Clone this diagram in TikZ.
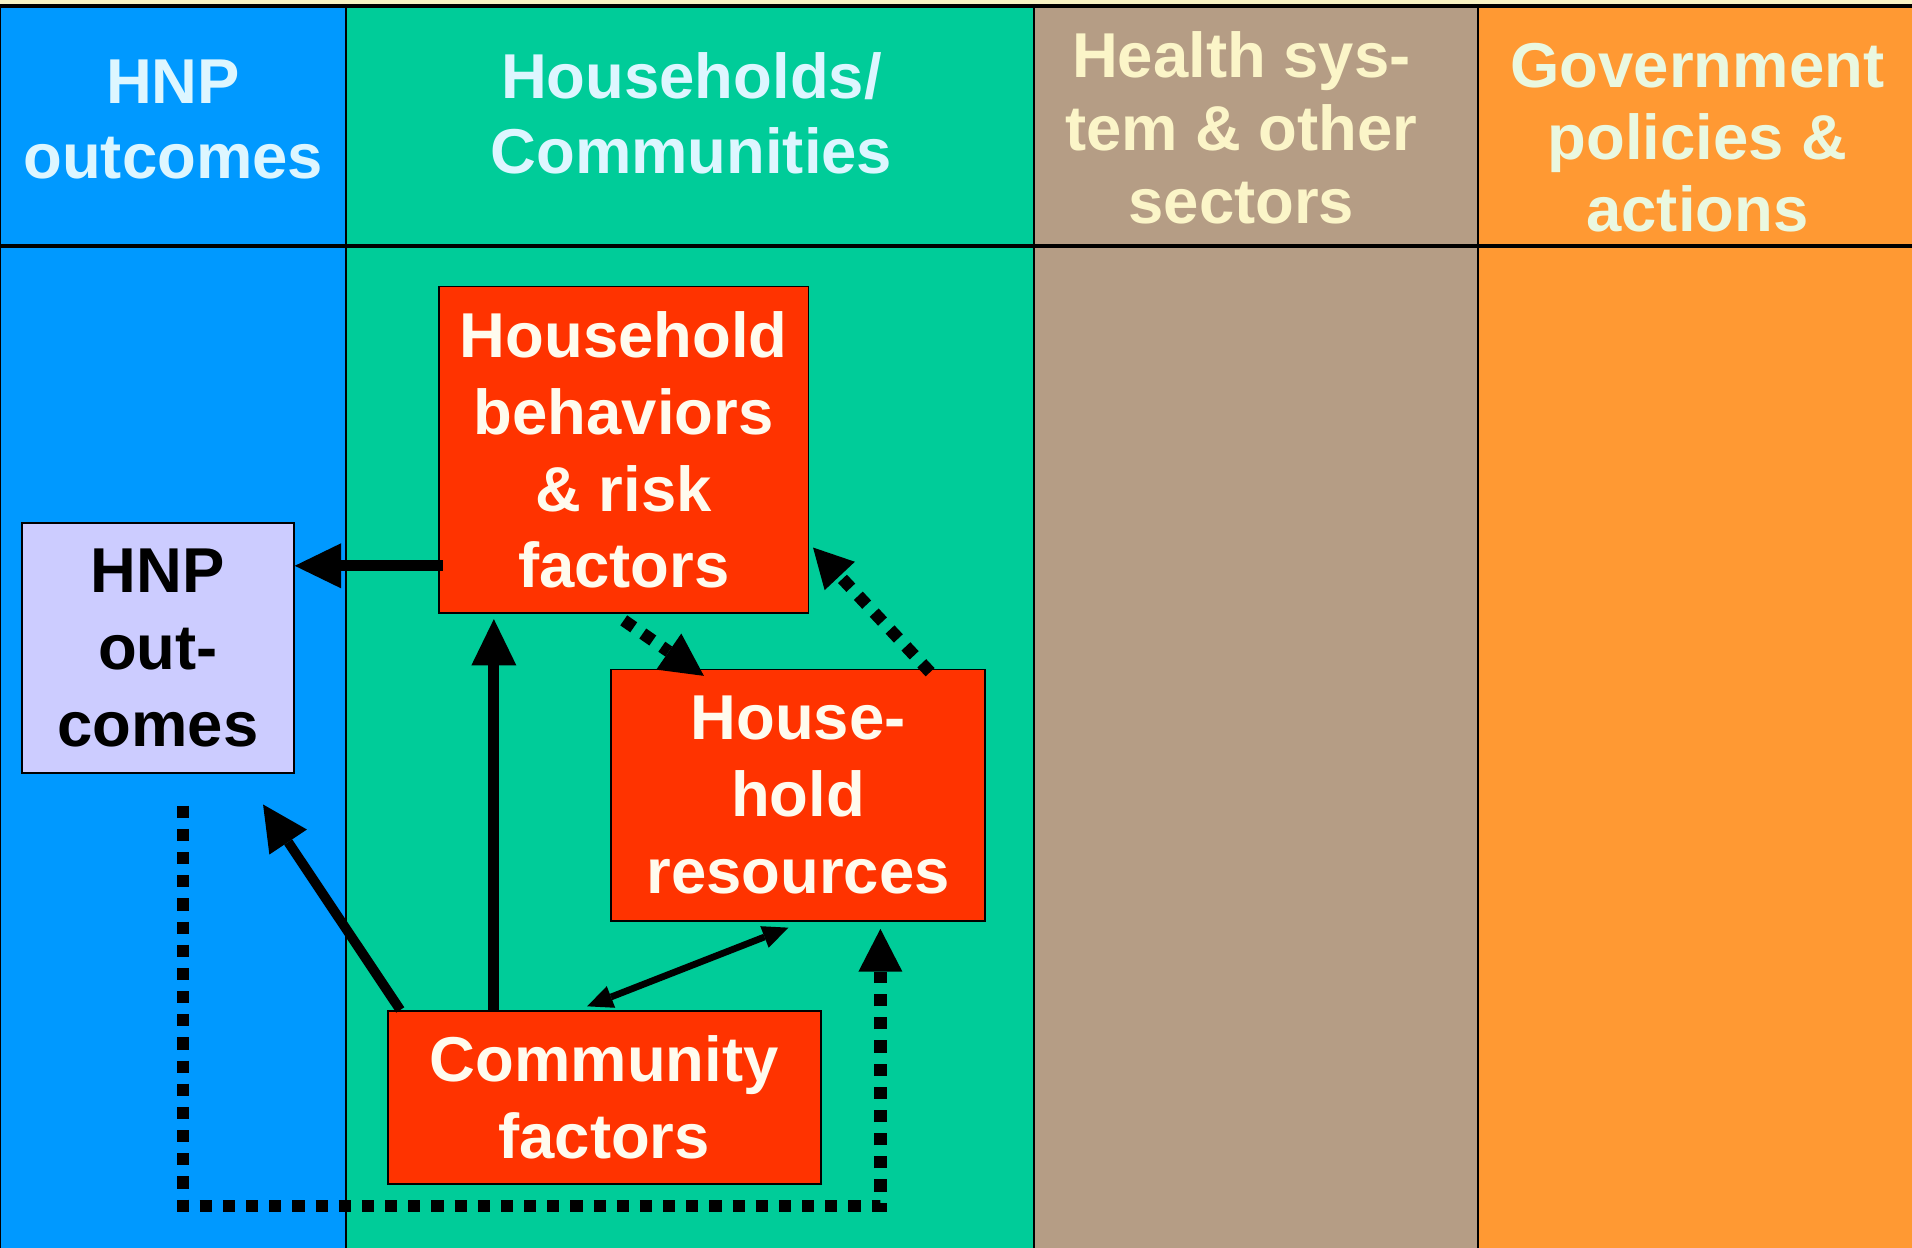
\documentclass[tikz,border=0pt]{standalone}
\usepackage{fontspec}
\setmainfont{Liberation Sans}
\usetikzlibrary{arrows.meta}
\definecolor{cblue}{HTML}{0099FF}
\definecolor{cgreen}{HTML}{00CC99}
\definecolor{ctan}{HTML}{B59D85}
\definecolor{corange}{HTML}{FF9933}
\definecolor{cred}{HTML}{FF3300}
\definecolor{clav}{HTML}{CCCCFF}
\definecolor{ccream}{HTML}{F8F2C4}
\definecolor{tblue}{HTML}{DDF6FF}
\definecolor{ttan}{HTML}{FBF5C8}
\definecolor{torange}{HTML}{EAF8E0}
\definecolor{twhite}{HTML}{FFFBEE}
\tikzset{
  colfill/.style={draw=black, line width=1.5pt},
  headtext/.style={align=center, inner sep=0pt, font=\fontsize{52}{62}\selectfont\bfseries},
  boxnode/.style={draw=black, line width=1.5pt, align=center, inner sep=0pt,
     font=\fontsize{52}{63}\selectfont\bfseries},
  redbox/.style={boxnode, fill=cred, text=twhite},
  lavbox/.style={boxnode, fill=clav, text=black},
  solidarrow/.style={line width=9pt, -{Triangle[length=38pt,width=37pt,line width=0pt]}},
  thinboth/.style={line width=5.5pt, {Triangle[length=21pt,width=19pt,line width=0pt]}-{Triangle[length=21pt,width=19pt,line width=0pt]}},
  dotarrow/.style={line width=10pt, dash pattern=on 10pt off 9pt, -{Triangle[length=35pt,width=36pt,line width=0pt]}},
}
\begin{document}
\begin{tikzpicture}[x=1pt,y=-1pt]
\useasboundingbox (0,0) rectangle (1568,1023);
% background columns
\fill[ccream] (0,0) rectangle (1568,6);
\filldraw[fill=cblue, colfill] (0,5) rectangle (284,1030);
\filldraw[fill=cgreen, colfill] (284,5) rectangle (848,1030);
\filldraw[fill=ctan, colfill] (848,5) rectangle (1212,1030);
\filldraw[fill=corange, colfill] (1212,5) rectangle (1575,1030);
\draw[line width=3.4pt] (0,5) -- (1568,5);
\draw[line width=3.2pt] (0,202) -- (1568,202);
% header texts
\node[headtext, text=tblue] (h1) at (142,98) {HNP\\outcomes};
\node[headtext, text=tblue] (h2) at (567,93) {Households/\\Communities};
\node[headtext, text=ttan, font=\fontsize{52}{60}\selectfont\bfseries] (h3) at (1018,105) {Health sys-\\tem \& other\\sectors};
\node[headtext, text=torange, font=\fontsize{52}{59}\selectfont\bfseries] (h4) at (1392,113) {Government\\policies \&\\actions};
% boxes
\node[lavbox, minimum width=223pt, minimum height=205pt] (hnp) at (129.5,531.5) {HNP\\out-\\comes};
\node[redbox, minimum width=303pt, minimum height=268pt] (hb) at (511.5,369) {Household\\behaviors\\\& risk\\factors};
\node[redbox, minimum width=307pt, minimum height=206pt] (hr) at (654.5,652) {House-\\hold\\resources};
\node[redbox, minimum width=355pt, minimum height=142pt] (cf) at (495.5,900) {Community\\factors};
% solid arrows
\draw[solidarrow] ([xshift=4pt,yshift=-95pt]hb.west) -- ([yshift=-95pt]hb.west -| hnp.east);
\draw[solidarrow, shorten >=4pt] ([xshift=-106.5pt]hb.south |- cf.north) -- ([xshift=-106.5pt]hb.south);
\draw[line width=8pt, -{Triangle[length=37pt,width=37pt,line width=0pt]}] ([xshift=11pt]cf.north west) -- ([xshift=-26pt,yshift=-25pt]hnp.south east);
\draw[thinboth] ([xshift=-14pt,yshift=3pt]cf.north) -- ([xshift=-8pt,yshift=-5pt]hr.south);
% dotted arrows
\draw[dotarrow] ([yshift=-5pt]hb.south) -- ([xshift=77pt,yshift=-6pt]hr.north west);
\draw[dotarrow, -{Triangle[length=32pt,width=34pt,line width=0pt]}] ([xshift=-46pt,yshift=-3pt]hr.north east) -- ([xshift=3pt,yshift=-80pt]hb.east);
\coordinate (loopR) at (722,989);
\draw[dotarrow] ([xshift=20.5pt,yshift=-26pt]hnp.south) |- (loopR) -- ([xshift=67.5pt,yshift=-6pt]hr.south);
\end{tikzpicture}
\end{document}
